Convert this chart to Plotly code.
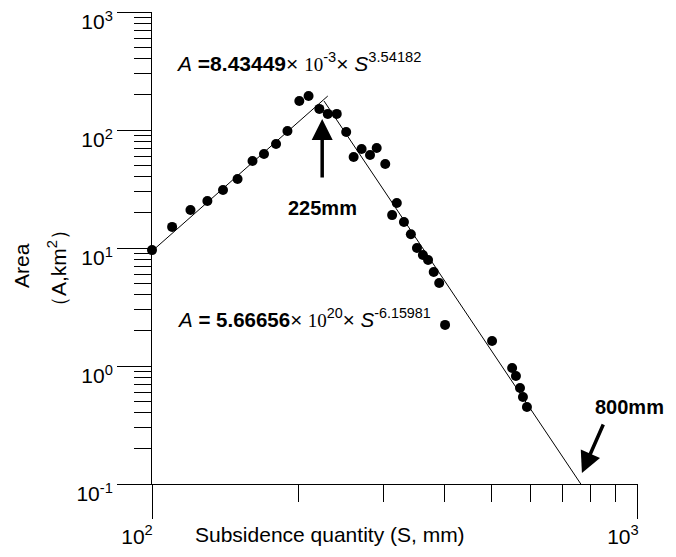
import numpy as np
import plotly.graph_objects as go

S = [100, 110, 120, 130, 140, 150, 161, 170, 180, 190, 201, 210, 221, 230, 240,
     251, 260, 270, 281, 290, 302, 312, 319, 330, 341, 351, 361, 370, 380, 390,
     401, 501, 551, 561, 572, 580, 591]
A = [9.6, 15.1, 21.0, 25.0, 31.0, 38.4, 54.6, 62.6, 76.1, 98.1, 176, 194, 151,
     137, 137, 96.2, 59.0, 69.0, 61.4, 70.4, 51.5, 19.0, 24.1, 16.6, 13.1, 10.0,
     8.73, 7.91, 6.26, 5.05, 2.23, 1.63, 0.962, 0.823, 0.651, 0.546, 0.450]

# Fitted power-law segments (end points)
fit_up_S = [100, 230]
fit_up_A = [9.4, 194]
fit_down_S = [226, 763]
fit_down_A = [176, 0.1]

x_major = [100, 1000]
x_major_text = ["10<sup>2</sup>", "10<sup>3</sup>"]
y_major = [0.1, 1, 10, 100, 1000]
y_major_text = ["10<sup>-1</sup>", "10<sup>0</sup>", "10<sup>1</sup>",
                "10<sup>2</sup>", "10<sup>3</sup>"]
x_minor = [k * 10 ** d for d in range(2, 3) for k in range(2, 10)]
y_minor = [k * 10.0 ** d for d in range(-1, 3) for k in range(2, 10)]

FONT = "Liberation Sans, Arial, sans-serif"

fig = go.Figure()
fig.add_trace(go.Scatter(x=fit_up_S, y=fit_up_A, mode="lines",
                         line=dict(color="black", width=1), showlegend=False))
fig.add_trace(go.Scatter(x=fit_down_S, y=fit_down_A, mode="lines",
                         line=dict(color="black", width=1), showlegend=False))
fig.add_trace(go.Scatter(x=S, y=A, mode="markers", cliponaxis=False,
                         marker=dict(color="black", size=10), showlegend=False))

axis_common = dict(
    type="log", showline=True, linecolor="black", linewidth=1,
    ticks="outside", ticklen=34, tickwidth=1, tickcolor="black",
    showgrid=False, zeroline=False, tickmode="array", automargin=False,
    ticklabeloverflow="allow",
    tickfont=dict(family=FONT, size=21, color="black"),
)
fig.update_xaxes(range=[2, 3.0002], tickvals=x_major, ticktext=x_major_text,
                 ticklabelshift=-15,
                 minor=dict(ticks="outside", ticklen=17, tickwidth=1,
                            tickcolor="black", tickmode="array",
                            tickvals=x_minor, showgrid=False),
                 **axis_common)
fig.update_yaxes(range=[-1, 3.0002], tickvals=y_major, ticktext=y_major_text,
                 ticklabelshift=10,
                 minor=dict(ticks="outside", ticklen=17, tickwidth=1,
                            tickcolor="black", tickmode="array",
                            tickvals=y_minor, showgrid=False),
                 **axis_common)

ann = []
# x-axis title
ann.append(dict(text="Subsidence quantity (S, mm)", xref="paper", yref="paper",
                x=0.366, y=-0.108, xanchor="center", yanchor="middle",
                showarrow=False, font=dict(family=FONT, size=21, color="black")))
# y-axis title (two rotated lines)
ann.append(dict(text="Area", xref="paper", yref="paper",
                x=(21 - 152) / 486, y=(484 - 266) / 472, xanchor="center",
                yanchor="middle", textangle=-90, showarrow=False,
                font=dict(family=FONT, size=21, color="black")))
ann.append(dict(text="（A,km<sup>2</sup>）", xref="paper", yref="paper",
                x=(57 - 152) / 486, y=(484 - 268) / 472, xanchor="center",
                yanchor="middle", textangle=-90, showarrow=False,
                font=dict(family=FONT, size=21, color="black")))
# formulas
ann.append(dict(text="<i>A</i> <b>=8.43449</b>× <span style='font-family:Liberation Serif;font-size:19px'>10</span><sup>-3</sup>× <i>S</i><sup>3.54182</sup>",
                xref="paper", yref="paper", x=(174 - 152) / 486, y=(484 - 62) / 472,
                xanchor="left", yanchor="middle", showarrow=False,
                font=dict(family=FONT, size=21, color="black")))
ann.append(dict(text="<i>A</i> <b>= 5.66656</b>× <span style='font-family:Liberation Serif;font-size:19px'>10</span><sup>20</sup>× <i>S</i><sup>-6.15981</sup>",
                xref="paper", yref="paper", x=(175 - 152) / 486, y=(484 - 318) / 472,
                xanchor="left", yanchor="middle", showarrow=False,
                font=dict(family=FONT, size=20.5, color="black")))
# 225mm label + arrow
ann.append(dict(text="<b>225mm</b>", xref="x", yref="y",
                x=np.log10(224), y=1.339, xanchor="center", yanchor="middle",
                showarrow=False, font=dict(family=FONT, size=20, color="black")))
ann.append(dict(text="", xref="x", yref="y", x=np.log10(224), y=2.093,
                showarrow=True, ax=0, ay=60, arrowhead=2, arrowsize=1.2,
                arrowwidth=3.5, arrowcolor="black", standoff=0))
# 800mm label + arrow
ann.append(dict(text="<b>800mm</b>", xref="x", yref="y",
                x=2.9835, y=-0.3475, xanchor="center", yanchor="middle",
                showarrow=False, font=dict(family=FONT, size=20, color="black")))
ann.append(dict(text="", xref="x", yref="y", x=2.8848, y=-0.9068,
                showarrow=True, ax=22, ay=-50, arrowhead=2, arrowsize=1.2,
                arrowwidth=3.5, arrowcolor="black", standoff=0))

fig.update_layout(width=676, height=557,
                  margin=dict(l=152, r=38, t=12, b=73),
                  paper_bgcolor="white", plot_bgcolor="white",
                  annotations=ann, showlegend=False,
                  font=dict(family=FONT, color="black"))

fig.write_html("out.html", config={"displayModeBar": False},
               post_script="document.body.style.margin='0';"
                           "document.body.style.overflow='hidden';")
